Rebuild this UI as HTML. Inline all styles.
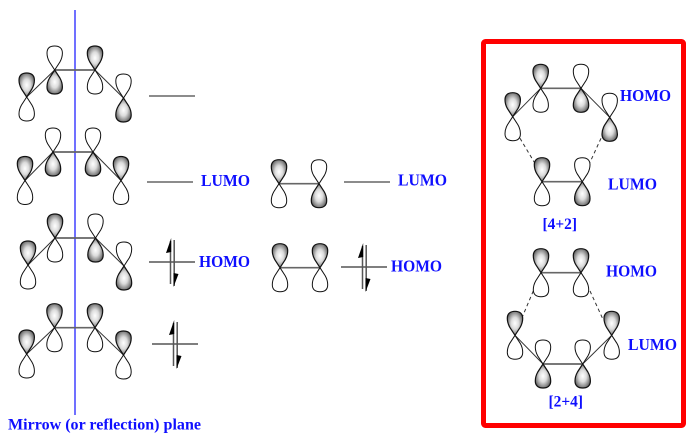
<!DOCTYPE html>
<html>
<head>
<meta charset="utf-8">
<style>
html,body{margin:0;padding:0;background:#fff;width:692px;height:436px;overflow:hidden}
svg{display:block}
text{font-family:"Liberation Serif",serif;font-weight:bold;fill:#0f0fff}
.l{font-size:16.5px}
.s{font-size:15.5px}
</style>
</head>
<body>
<svg width="692" height="436" viewBox="0 0 692 436" xmlns="http://www.w3.org/2000/svg">
<defs>
<radialGradient id="g" cx="50%" cy="50%" r="62%">
<stop offset="0" stop-color="#fff"/>
<stop offset="0.4" stop-color="#dcdcdc"/>
<stop offset="0.8" stop-color="#777"/>
<stop offset="1" stop-color="#222"/>
</radialGradient>
<path id="p" d="M0,0L-5.2,-8C-6.8,-10.8 -7.7,-14 -7.7,-17C-7.7,-22 -4.4,-24 0,-24C4.4,-24 7.7,-22 7.7,-17C7.7,-14 6.8,-10.8 5.2,-8Z"/>
<g id="a"><use href="#p" fill="url(#g)" stroke="#111" stroke-width="1.2"/><use href="#p" transform="rotate(180)" fill="none" stroke="#111" stroke-width="1"/></g>
<g id="b"><use href="#p" fill="none" stroke="#111" stroke-width="1"/><use href="#p" transform="rotate(180)" fill="url(#g)" stroke="#111" stroke-width="1.2"/></g>
<g id="ar" stroke="#555" stroke-width="1.5" fill="none">
<path d="M-23,0H23"/>
<path d="M-1.5,-21V22M2.2,-22V24"/>
<path d="M-0.8,-24L-0.8,-10L-6,-9Z" fill="#000" stroke="none"/>
<path d="M1.5,25L1.5,11L6.5,12Z" fill="#000" stroke="none"/>
</g>
</defs>

<!-- mirror plane -->
<path d="M75,10V415" stroke="#7070ff" stroke-width="2" fill="none"/>

<!-- bonds -->
<g fill="none" stroke="#333" stroke-width="1">
<path d="M26.7,97L54.7,70M95,70L123.5,98"/>
<path d="M25,180.5L53,152M93,152L121,180.5"/>
<path d="M28,265L55,238M95.5,238L124,266"/>
<path d="M26.7,354L54.5,327.7M95,327.7L123.5,355"/>
<path d="M512.7,116.7L540.7,88.3M581,88.3L609.7,117.3"/>
<path d="M515,335.3L543,364M582.7,364L611.7,335.3"/>
<path d="M520,138.3L534.3,162.3M601,138.3L590,162.3M533.3,291L522.7,316M590,291L603.3,320" stroke-dasharray="3.5 3"/>
</g>
<g fill="none" stroke="#666" stroke-width="1.7">
<path d="M54.7,70H95M53,152H93M55,238H95.5M54.5,327.7H95"/>
<path d="M279,183.7H319M280,267.7H320"/>
<path d="M540.7,88.3H581M542,181.7H582.3M541,272.7H581M543,364H582.7"/>
</g>

<!-- butadiene orbitals -->
<use href="#a" x="26.7" y="97"/><use href="#b" x="54.7" y="70"/><use href="#a" x="95" y="70"/><use href="#b" x="123.5" y="98"/>
<use href="#a" x="25" y="180.5"/><use href="#b" x="53" y="152"/><use href="#b" x="93" y="152"/><use href="#a" x="121" y="180.5"/>
<use href="#a" x="28" y="265"/><use href="#a" x="55" y="238"/><use href="#b" x="95.5" y="238"/><use href="#b" x="124" y="266"/>
<use href="#a" x="26.7" y="354"/><use href="#a" x="54.5" y="327.7"/><use href="#a" x="95" y="327.7"/><use href="#a" x="123.5" y="355"/>

<!-- ethene orbitals -->
<use href="#a" x="279" y="183.7"/><use href="#b" x="319" y="183.7"/>
<use href="#a" x="280" y="267.7"/><use href="#a" x="320" y="267.7"/>

<!-- energy levels -->
<g stroke="#666" stroke-width="1.5" fill="none">
<path d="M149,96H195M147,182H193M344,182H390"/>
</g>
<use href="#ar" x="172" y="262"/>
<use href="#ar" x="175" y="344"/>
<use href="#ar" x="364" y="267"/>

<!-- red box -->
<rect x="483.5" y="41.5" width="200" height="384" rx="2" fill="none" stroke="#ff0000" stroke-width="5"/>

<!-- [4+2] -->
<use href="#a" x="512.7" y="116.7"/><use href="#a" x="540.7" y="88.3"/><use href="#b" x="581" y="88.3"/><use href="#b" x="609.7" y="117.3"/>
<use href="#a" x="542" y="181.7"/><use href="#b" x="582.3" y="181.7"/>

<!-- [2+4] -->
<use href="#a" x="541" y="272.7"/><use href="#a" x="581" y="272.7"/>
<use href="#a" x="515" y="335.3"/><use href="#b" x="543" y="364"/><use href="#b" x="582.7" y="364"/><use href="#a" x="611.7" y="335.3"/>

<!-- labels -->
<text class="l" x="201" y="186" textLength="49" lengthAdjust="spacingAndGlyphs">LUMO</text>
<text class="l" x="199" y="267" textLength="51" lengthAdjust="spacingAndGlyphs">HOMO</text>
<text class="l" x="398" y="185.5" textLength="49" lengthAdjust="spacingAndGlyphs">LUMO</text>
<text class="l" x="391" y="271.5" textLength="51" lengthAdjust="spacingAndGlyphs">HOMO</text>
<text class="l" x="620" y="101" textLength="51" lengthAdjust="spacingAndGlyphs">HOMO</text>
<text class="l" x="608" y="189.5" textLength="49" lengthAdjust="spacingAndGlyphs">LUMO</text>
<text class="l" x="606" y="276.5" textLength="51" lengthAdjust="spacingAndGlyphs">HOMO</text>
<text class="l" x="628" y="350" textLength="49" lengthAdjust="spacingAndGlyphs">LUMO</text>
<text class="s" x="542.5" y="229" textLength="34.5" lengthAdjust="spacingAndGlyphs">[4+2]</text>
<text class="s" x="548.5" y="406.5" textLength="34.5" lengthAdjust="spacingAndGlyphs">[2+4]</text>
<text x="8" y="429.5" textLength="193" lengthAdjust="spacingAndGlyphs" style="font-size:16px">Mirrow (or reflection) plane</text>
</svg>
</body>
</html>
